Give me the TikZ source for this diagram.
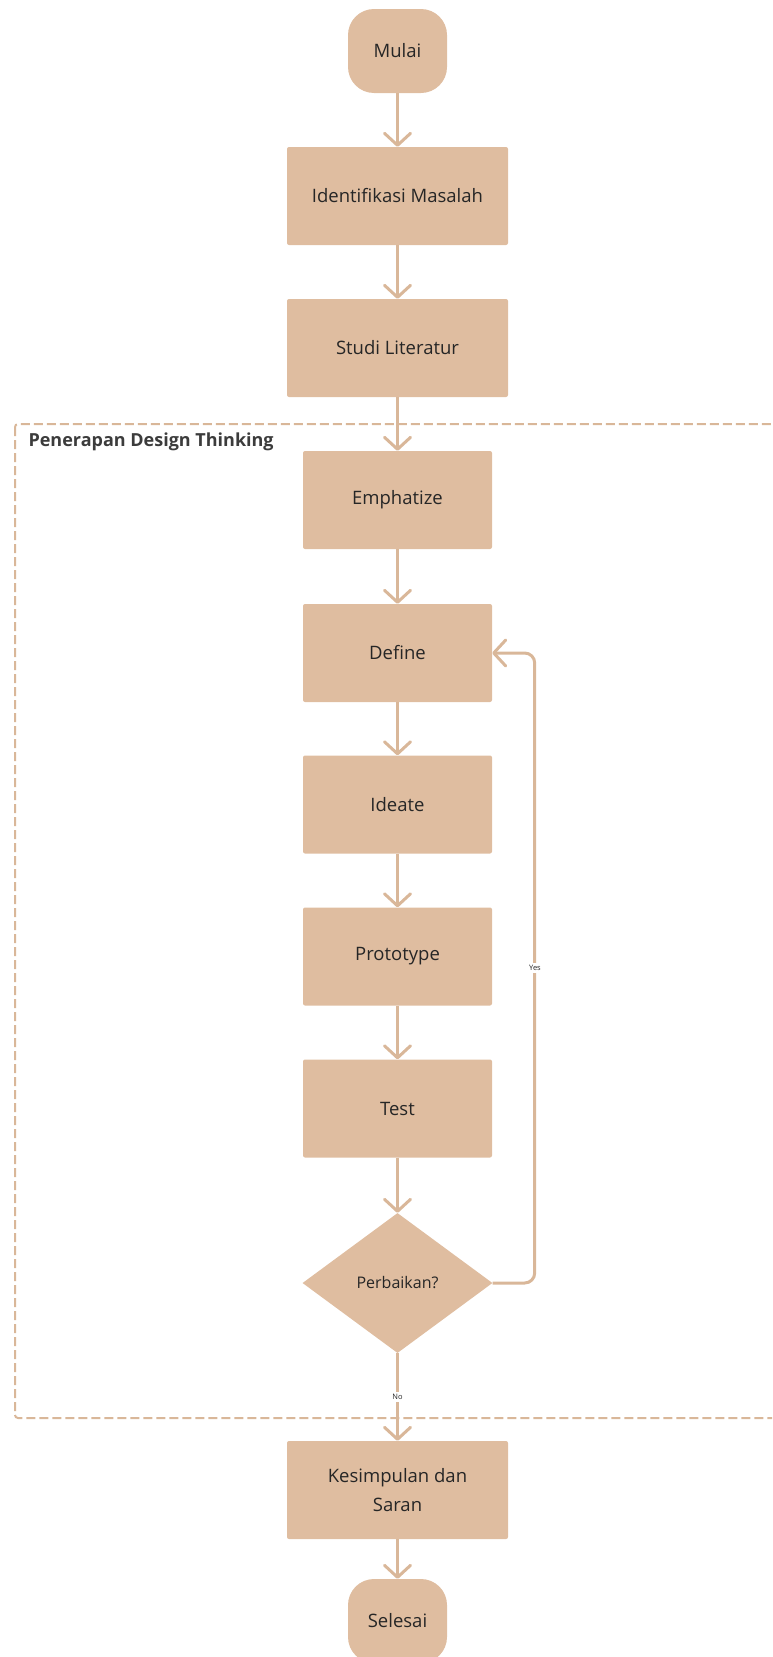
\documentclass[tikz,border=0pt]{standalone}
\usepackage{fontspec}
\setmainfont{Open Sans}
\usetikzlibrary{arrows.meta,shapes.geometric}
\definecolor{tanfill}{RGB}{223,189,160}
\definecolor{tanline}{RGB}{217,183,153}
\definecolor{txt}{RGB}{38,38,38}
\begin{document}
\begin{tikzpicture}[x=1pt,y=-1pt,
  box/.style={fill=tanfill, minimum width=221pt, minimum height=98pt, rounded corners=2pt,
    font=\fontsize{18.5}{28.5}\selectfont, text=txt, inner sep=0pt, align=center},
  smallbox/.style={box, minimum width=189pt},
  term/.style={box, minimum width=99pt, minimum height=84pt, rounded corners=26pt},
  decision/.style={diamond, fill=tanfill, minimum width=190pt, minimum height=140pt, inner sep=0pt,
    font=\fontsize{16}{19}\selectfont, text=txt},
  conn/.style={draw=tanline, line width=3pt, -{Straight Barb[length=12pt,width=26pt,line width=3pt,round]}},
  lbl/.style={fill=white, text=txt, font=\fontsize{7.5}{9}\selectfont, inner sep=2pt},
  frame/.style={draw=tanline, line width=2pt, dash pattern=on 9pt off 4pt, rounded corners=3pt}]
\useasboundingbox (0,0) rectangle (772,1657);
\clip (0,0) rectangle (772,1657);
\draw[frame] (15,424) rectangle (800,1418);
\node[anchor=west, font=\bfseries\fontsize{18}{22}\selectfont, text=txt!90] (title) at (25,442) {Penerapan Design Thinking};
\node[term] (mulai) at (397.5,51) {Mulai};
\node[box] (ident) at (397.5,196) {Identifikasi Masalah};
\node[box] (studi) at (397.5,348) {Studi Literatur};
\node[smallbox] (emp) at (397.5,500) {Emphatize};
\node[smallbox] (def) at (397.5,653) {Define};
\node[smallbox] (ide) at (397.5,804.5) {Ideate};
\node[smallbox] (pro) at (397.5,956.5) {Prototype};
\node[smallbox] (test) at (397.5,1108.5) {Test};
\node[decision] (dia) at (397.5,1283) {Perbaikan?};
\node[box] (kes) at (397.5,1490) {Kesimpulan dan\\Saran};
\node[term] (sel) at (397.5,1621) {Selesai};
\draw[conn] (mulai) -- (ident);
\draw[conn] (ident) -- (studi);
\draw[conn] (studi) -- (emp);
\draw[conn] (emp) -- (def);
\draw[conn] (def) -- (ide);
\draw[conn] (ide) -- (pro);
\draw[conn] (pro) -- (test);
\draw[conn] (test) -- (dia);
\draw[conn] (dia) -- node[lbl, pos=0.5] {No} (kes);
\draw[conn, rounded corners=10pt] (dia.east) -- ++(42,0) |- (def.east);
\node[lbl] (yes) at (535,968) {Yes};
\draw[conn] (kes) -- (sel);
\end{tikzpicture}
\end{document}
